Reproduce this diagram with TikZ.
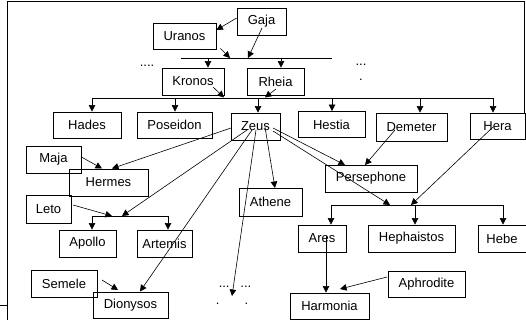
\documentclass[tikz,border=0pt]{standalone}
\usepackage{fontspec}
\setmainfont{Liberation Sans}
\usetikzlibrary{arrows.meta}
\begin{document}
\begin{tikzpicture}[x=1pt,y=-1pt,
  box/.style={draw, line width=0.8pt, inner sep=0pt, font=\fontsize{13}{15}\selectfont},
  arr/.style={-{Triangle[length=6.5pt,width=6.5pt]}, line width=0.6pt},
  ln/.style={line width=0.8pt},
  dots/.style={inner sep=0pt, anchor=base, font=\fontsize{13}{15}\selectfont}]
\useasboundingbox (0,0) rectangle (526,320);
% frame
\draw[line width=0.8pt] (7.5,320) -- (7.5,1.5) -- (524.5,1.5) -- (524.5,113);
\draw[line width=0.8pt] (0,305) -- (7.5,305);
% nodes
\node[box, minimum width=49pt, minimum height=27pt] (gaja) at (261.5,21.5) {Gaja};
\node[box, minimum width=63pt, minimum height=26pt] (uranos) at (184.5,36) {Uranos};
\node[box, minimum width=62pt, minimum height=27pt] (kronos) at (193,81.5) {Kronos};
\node[box, minimum width=57pt, minimum height=27pt] (rheia) at (275.5,81.5) {Rheia};
\node[box, minimum width=68pt, minimum height=26pt] (hades) at (87,125) {Hades};
\node[box, minimum width=75pt, minimum height=26pt] (poseidon) at (174.5,125) {Poseidon};
\node[box, minimum width=49pt, minimum height=27pt] (zeus) at (255.5,126.5) {Zeus};
\node[box, minimum width=67pt, minimum height=26pt] (hestia) at (331.5,124.5) {Hestia};
\node[box, minimum width=71pt, minimum height=28pt] (demeter) at (411.5,127) {Demeter};
\node[box, minimum width=55pt, minimum height=26pt] (hera) at (497.5,126) {Hera};
\node[box, minimum width=55pt, minimum height=27pt] (maja) at (53.5,159.5) {Maja};
\node[box, minimum width=79pt, minimum height=27pt] (hermes) at (108.5,182.5) {Hermes};
\node[box, minimum width=63pt, minimum height=28pt] (athene) at (270.5,202) {Athene};
\node[box, minimum width=92pt, minimum height=27pt] (persephone) at (371,178.5) {Persephone};
\node[box, minimum width=45pt, minimum height=28pt] (leto) at (48.5,209) {Leto};
\node[box, minimum width=57pt, minimum height=27pt] (apollo) at (87.5,243.5) {Apollo};
\node[box, minimum width=55pt, minimum height=27pt] (artemis) at (164.5,243.5) {Artemis};
\node[box, minimum width=48pt, minimum height=27pt] (ares) at (322,238.5) {Ares};
\node[box, minimum width=87pt, minimum height=27pt] (hephaistos) at (411.5,238.5) {Hephaistos};
\node[box, minimum width=48pt, minimum height=27pt] (hebe) at (502,238.5) {Hebe};
\node[box, minimum width=66pt, minimum height=27pt] (semele) at (64,283.5) {Semele};
\node[box, minimum width=75pt, minimum height=26pt] (dionysos) at (130.5,305) {Dionysos};
\node[box, minimum width=77pt, minimum height=26pt] (aphrodite) at (426.5,284) {Aphrodite};
\node[box, minimum width=79pt, minimum height=26pt] (harmonia) at (329.5,306) {Harmonia};
% dots
\node[dots] (d1) at (147,67) {....};
\node[dots] (d2) at (361,66) {...};
\node[dots] (d3) at (361,81) {.};
\node[dots] (d4) at (235,287) {...\ \ \ ...};
\node[dots] (d5) at (232,304) {.\ \ \ \ \ \ \ .};
% generation 1
\coordinate (m1L) at (181,58);
\coordinate (m1R) at (332,58);
\draw[ln] (m1L) -- (m1R);
\coordinate (m1u) at (230,58);
\coordinate (m1g) at (248,58);
\coordinate (m1k) at (208,58);
\coordinate (m1r) at (281,58);
\coordinate (gsrc) at (262,28);
\draw[arr] (gaja.west |- 0,18) -- (uranos.east |- 0,30);
\draw[arr] (uranos.south east) ++(4,-1) coordinate (usrc) -- (m1u);
\draw[arr] (gsrc) -- (m1g);
\draw[arr] (m1k) -- (m1k |- kronos.north);
\draw[arr] (m1r) -- (m1r |- rheia.north);
% generation 2
\coordinate (m2L) at (92,98);
\coordinate (m2R) at (493,98);
\draw[ln] (m2L) -- (m2R);
\coordinate (ksrc) at (213,87);
\coordinate (rsrc) at (276,89);
\draw[arr] (ksrc) -- (224,97.5) coordinate (m2k);
\draw[arr] (rsrc) -- (265,97.5) coordinate (m2r);
\foreach \x/\n in {92/hades,175/poseidon,258/zeus,332/hestia,420/demeter,493/hera}{
  \draw[arr] (\x,98) -- (\x,98 |- \n.north);
}
% Zeus children
\coordinate (zL) at (231,128);
\draw[arr] (zL) -- (112,168.5) coordinate (hmz);
\draw[arr] (maja.east |- 0,157) -- (102,168.5) coordinate (hmm);
\coordinate (m3L) at (92,216);
\coordinate (m3R) at (168,216);
\draw[ln] (m3L) -- (m3R);
\draw[arr] (73,205) coordinate (lsrc) -- (112,216);
\draw[arr] (247,130) coordinate (zsrc1) -- (122,216);
\draw[arr] (m3L) -- (m3L |- apollo.north);
\draw[arr] (m3R) -- (m3R |- artemis.north);
\draw[arr] (252,130) coordinate (zsrc2) -- (140,291.5);
\draw[arr] (256,130) coordinate (zsrc3) -- (232,296);
\draw[arr] (265,127) coordinate (zsrc4) -- (275,188);
\draw[arr] (102,280) coordinate (ssrc) -- (118,290);
\draw[arr] (273,128) coordinate (zsrc5) -- (345,165);
\draw[arr] (395,130) coordinate (dsrc) -- (365,165);
% Zeus + Hera
\coordinate (m4L) at (331,205);
\coordinate (m4R) at (503,205);
\draw[ln] (m4L) -- (m4R);
\draw[arr] (273,131) coordinate (zsrc6) -- (390,205);
\draw[arr] (493,127) coordinate (hsrc) -- (411,205);
\draw[arr] (m4L) -- (m4L |- ares.north);
\draw[arr] (415,205) coordinate (m4h) -- (m4h |- hephaistos.north);
\draw[arr] (m4R) -- (m4R |- hebe.north);
% Harmonia
\draw[arr] (326,236) coordinate (asrc) -- (asrc |- harmonia.north);
\draw[arr] (387,277) coordinate (apsrc) -- (340,289);
\end{tikzpicture}
\end{document}
